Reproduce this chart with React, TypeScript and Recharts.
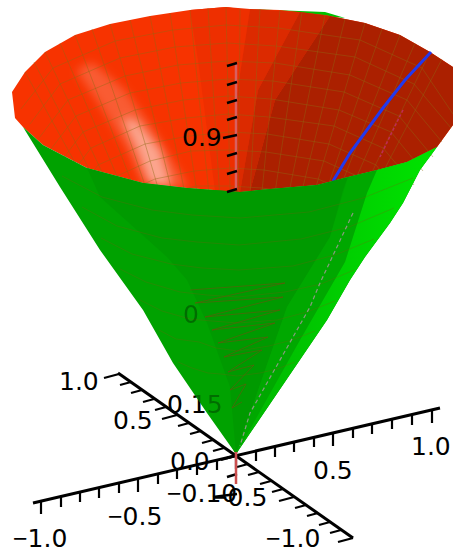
import { Scatter, ScatterChart, XAxis, YAxis } from 'recharts';

type Pair = [number, number];

const apex: Pair = [236, 454];

const backRim: Pair[] = [
  [15, 118], [12, 92], [25, 72], [45, 52], [75, 35], [110, 24], [150, 16], [190, 10], [226, 7],
  [240, 9], [280, 10], [325, 15], [365, 23], [400, 35], [430, 52], [453, 67], [453, 125],
];
const frontRim: Pair[] = [
  [437, 147], [407, 162], [377, 170], [348, 177], [317, 185], [270, 189], [240, 192], [187, 188],
  [143, 183], [87, 168], [43, 145], [23, 127],
];
const outerLeft: Pair[] = [
  [15, 118], [23, 127], [60, 187], [100, 250], [143, 310], [173, 363], [207, 413], [236, 454],
];
const outerRight: Pair[] = [
  [236, 454], [327, 320], [350, 280], [365, 257], [390, 223], [403, 203], [420, 170], [437, 147], [453, 125],
];

const spokeTops: Pair[] = [
  [34, 62], [60, 43], [92, 29], [130, 20], [170, 13], [208, 8], [260, 9], [302, 12],
  [345, 19], [382, 29], [415, 43], [442, 59],
];

const midBandA: Pair[] = [[190, 10], [226, 7], [250, 9], [236, 100], [236, 192], [215, 191], [198, 60]];
const midBandB: Pair[] = [[250, 9], [300, 12], [258, 90], [240, 192], [236, 192], [236, 100]];
const midBandC: Pair[] = [[300, 12], [330, 16], [275, 100], [250, 191], [240, 192], [258, 90]];
const darkBand: Pair[] = [
  [330, 16], [365, 23], [400, 35], [430, 52], [453, 67], [453, 125], [437, 147], [407, 162],
  [377, 170], [348, 177], [317, 185], [270, 189], [250, 191], [275, 100],
];
const greenPeek: Pair[] = [[250, 9], [325, 12], [345, 18], [300, 14]];

const glowWide: Pair[] = [[76, 70], [92, 62], [125, 90], [150, 125], [172, 160], [189, 188], [143, 183], [125, 145], [100, 105]];
const glowCore: Pair[] = [[122, 118], [136, 120], [160, 150], [172, 187], [150, 184], [138, 152]];

const innerRings: Pair[][] = [
  [[21, 109], [53, 68], [115, 41], [173, 30], [226, 25], [278, 28], [360, 40], [422, 68], [453, 114]],
  [[30, 124], [60, 84], [120, 58], [175, 47], [227, 43], [276, 46], [355, 57], [414, 84], [451, 128]],
  [[39, 138], [68, 100], [125, 76], [178, 65], [227, 61], [275, 63], [350, 75], [407, 100], [442, 142]],
  [[48, 153], [76, 116], [130, 93], [181, 83], [228, 79], [273, 81], [344, 92], [399, 116], [433, 157]],
  [[57, 167], [83, 132], [135, 110], [183, 100], [228, 96], [271, 99], [339, 110], [391, 132], [423, 171]],
  [[66, 181], [91, 148], [140, 126], [186, 118], [228, 114], [269, 117], [334, 126], [383, 148], [414, 185]],
  [[75, 195], [98, 165], [145, 144], [189, 136], [229, 132], [267, 134], [329, 144], [376, 165], [404, 199]],
  [[84, 213], [106, 181], [150, 161], [191, 151], [229, 150], [266, 152], [324, 161], [368, 181], [395, 213]],
  [[93, 224], [114, 197], [155, 179], [194, 171], [230, 168], [264, 170], [318, 179], [360, 197], [386, 229]],
  [[121, 213], [160, 195], [196, 186], [230, 186], [262, 188], [313, 195], [353, 213]],
];

const greenCentre: Pair[] = [
  [236, 454], [230, 387], [207, 323], [187, 280], [167, 257], [100, 197], [87, 168], [143, 183],
  [187, 188], [240, 192], [270, 189], [317, 185], [348, 177], [343, 190], [330, 237], [287, 307],
];
const greenRightA: Pair[] = [[348, 177], [377, 170], [367, 193], [345, 262], [300, 340], [236, 454], [287, 307], [330, 237]];
const greenRightB: Pair[] = [
  [377, 170], [407, 162], [437, 147], [453, 125], [437, 147], [420, 170], [403, 203], [390, 223], [365, 257],
  [350, 280], [327, 320], [236, 454], [300, 340], [345, 262], [367, 193],
];

const outerRings: Pair[][] = [
  [[62, 176], [102, 197], [152, 210], [192, 215], [240, 218], [309, 212], [363, 198], [413, 178]],
  [[82, 207], [117, 226], [162, 238], [197, 242], [239, 245], [301, 239], [349, 227], [394, 208]],
  [[101, 238], [132, 254], [171, 264], [202, 268], [239, 270], [293, 266], [335, 255], [374, 239]],
  [[120, 269], [146, 282], [180, 292], [207, 295], [238, 297], [285, 292], [321, 284], [354, 270]],
  [[140, 300], [162, 311], [190, 319], [212, 321], [238, 323], [277, 320], [307, 312], [335, 301]],
  [[159, 330], [176, 339], [199, 342], [216, 348], [238, 351], [269, 346], [292, 340], [315, 331]],
  [[178, 362], [192, 368], [208, 373], [221, 374], [237, 376], [260, 373], [277, 369], [295, 362]],
];
const brownZigzag: Pair[] = [
  [190, 290], [285, 283], [195, 303], [283, 297], [205, 317], [280, 310], [212, 330], [275, 323], [218, 343],
  [268, 337], [224, 357], [262, 350], [228, 372], [254, 365], [230, 390], [246, 384], [232, 408], [242, 402],
];
const greyDash: Pair[] = [[353, 213], [320, 283], [310, 307], [250, 413], [240, 446]];

const blueCurve: Pair[] = [[431, 52], [405, 80], [383, 108], [350, 153], [333, 181]];
const pinkDash: Pair[] = [[403, 110], [392, 132], [380, 157]];

const zLine: Pair[] = [[236, 63], [236, 190]];
const zLineLow: Pair[] = [[236, 452], [236, 484]];
const zTickY = [64, 83, 101, 118, 136, 154, 172, 190];
const zTickLowY = [456, 475, 495];

const axisAX = [41, 61, 80, 99, 119, 138, 158, 177, 197, 217, 236, 256, 275, 294, 314, 333, 353, 372, 392, 412, 432];
const axisAY = [501, 497, 492, 488, 483, 479, 474, 469, 465, 460, 456, 451, 447, 442, 437, 433, 428, 424, 419, 415, 410];
const axisBX = [119, 131, 142, 154, 166, 177, 189, 201, 213, 224, 236, 248, 259, 271, 283, 294, 306, 318, 330, 341, 353];
const axisBY = [374, 382, 390, 399, 407, 415, 423, 431, 440, 448, 456, 464, 472, 481, 489, 497, 505, 513, 522, 530, 538];

const labelText = ['0.9', '1.0', '0.5', '0.0', '−0.10', '−0.5', '−0.5', '−1.0', '0.5', '1.0', '−1.0'];
const labelX = [182, 59, 113, 170, 167, 213, 108, 13, 313, 411, 266];
const labelY = [146, 390, 429, 470, 502, 506, 525, 547, 479, 455, 547];
const hiddenText = ['0.15', '0'];
const hiddenX = [167, 183];
const hiddenY = [413, 323];

const FONT = '"DejaVu Sans", sans-serif';

const noDot = () => <g />;
const pts = (list: Pair[]) => list.map(([x, y]) => ({ x, y }));

function poly(key: string, list: Pair[], fill: string, extra = {}) {
  return (
    <Scatter
      key={key}
      data={pts([...list, list[0]])}
      shape={noDot}
      line={{ fill, stroke: 'none', ...extra }}
      isAnimationActive={false}
    />
  );
}

function path(key: string, list: Pair[], stroke: string, strokeWidth: number, extra = {}) {
  return (
    <Scatter
      key={key}
      data={pts(list)}
      shape={noDot}
      line={{ fill: 'none', stroke, strokeWidth, ...extra }}
      isAnimationActive={false}
    />
  );
}

function label(key: string, text: string, x: number, y: number, opacity = 1) {
  const shape = (p: any) => (
    <text x={p.cx} y={p.cy} fontFamily={FONT} fontSize={25} fill="#000" opacity={opacity}>
      {text.startsWith('−') ? <tspan fontFamily="Liberation Sans">−</tspan> : null}
      {text.replace('−', '')}
    </text>
  );
  return <Scatter key={key} data={[{ x, y }]} shape={shape} isAnimationActive={false} />;
}

const mesh = { strokeOpacity: 0.6 };
// the outermost rim points would run along the silhouette, so they get no spoke
const spokes = [...backRim, ...spokeTops].filter(([x]) => x > 20 && x < 445);

export default function App() {
  return (
    <div style={{ position: 'absolute', left: 0, top: 0, width: 453, height: 552, overflow: 'hidden' }}>
      <ScatterChart width={453} height={552} margin={{ top: 0, right: 0, bottom: 0, left: 0 }}>
        <defs>
          <linearGradient id="rightGreen" x1="0" y1="0" x2="1" y2="0">
            <stop offset="0%" stopColor="#00b400" />
            <stop offset="45%" stopColor="#00cc00" />
            <stop offset="100%" stopColor="#00e800" />
          </linearGradient>
          <filter id="soft" x="-30%" y="-30%" width="160%" height="160%">
            <feGaussianBlur stdDeviation="5" />
          </filter>
        </defs>
        <XAxis type="number" dataKey="x" domain={[0, 453]} hide />
        <YAxis type="number" dataKey="y" domain={[0, 552]} reversed hide width={0} />

        {poly('peek', greenPeek, '#00c000')}
        {poly('inside', [...backRim, ...frontRim], '#f73300')}
        {poly('midA', midBandA, '#ee2f00')}
        {poly('midB', midBandB, '#dc2a00')}
        {poly('midC', midBandC, '#c52500')}
        {poly('dark', darkBand, '#ab2000')}
        {poly('glowWide', glowWide, '#ffffff', { fillOpacity: 0.2, filter: 'url(#soft)' })}
        {poly('glowCore', glowCore, '#ffffff', { fillOpacity: 0.45, filter: 'url(#soft)' })}

        {innerRings.map((r, i) => path(`ring${i}`, r, '#8f6a14', 0.7, mesh))}
        {spokes.map((p, i) => path(`spoke${i}`, [p, apex], '#8f6a14', 0.7, mesh))}

        {path('pink', pinkDash, '#c02a55', 1.5, { strokeDasharray: '3 2' })}
        {path('blue', blueCurve, '#2238ee', 3)}

        {hiddenText.map((t, i) => label(`under${i}`, t, hiddenX[i], hiddenY[i]))}

        {poly('green', [...frontRim, ...outerLeft.slice(0, -1), ...outerRight], '#00a200')}
        {poly('greenMid', greenCentre, '#009a00')}
        {poly('greenA', greenRightA, '#00a800')}
        {poly('greenB', greenRightB, 'url(#rightGreen)')}
        {outerRings.map((r, i) => path(`outer${i}`, r, '#7a5a10', 0.7, { strokeOpacity: 0.4 }))}
        {path('zig', brownZigzag, '#7a4a10', 0.8, { strokeOpacity: 0.65 })}
        {path('grey', greyDash, '#8a9a80', 1.2, { strokeDasharray: '4 3' })}

        {hiddenText.map((t, i) => label(`over${i}`, t, hiddenX[i], hiddenY[i], 0.32))}

        {path('zLine', zLine, '#d86060', 2.5)}
        {zTickY.map((y, i) => {
          const long = i === 4 ? 14 : 10;
          return path(`zt${i}`, [[237, y - 1], [237 - long, y + 2]], '#000', 2.5);
        })}
        {zTickLowY.map((y, i) => {
          const long = i === 2 ? 24 : 10;
          return path(`ztl${i}`, [[237, y - 1], [237 - long, y + 2]], '#000', 2.5);
        })}

        {path('axisA', [[33, 503], [440, 408]], '#000', 3)}
        {path('axisB', [[118, 373], [353, 538]], '#000', 3)}
        {axisAX.map((x, i) => path(`at${i}`, [[x, axisAY[i]], [x, axisAY[i] + (i % 5 === 0 ? 13 : 10)]], '#000', 2.2))}
        {axisBX.map((x, i) => {
          const major = i % 5 === 0;
          return path(`bt${i}`, [[x, axisBY[i]], [x - (major ? 15 : 11), axisBY[i] + (major ? 4 : 3)]], '#000', 2.2);
        })}
        {path('zLineLow', zLineLow, '#cc4f4f', 2.5)}

        {labelText.map((t, i) => label(`lab${i}`, t, labelX[i], labelY[i]))}
      </ScatterChart>
    </div>
  );
}
